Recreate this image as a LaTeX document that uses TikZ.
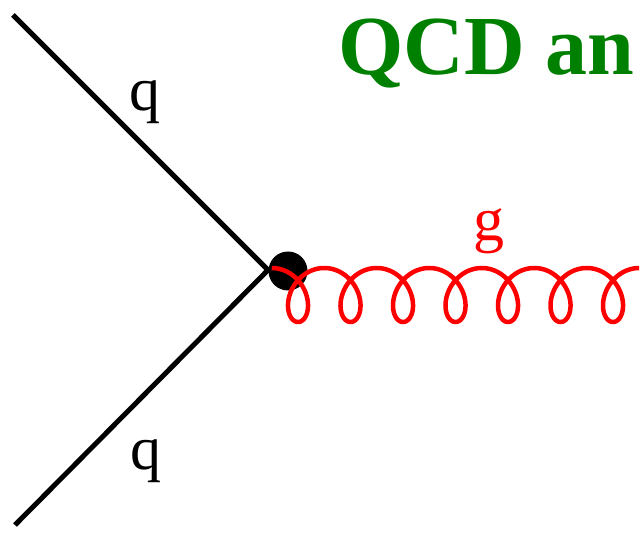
\documentclass[tikz,border=0pt]{standalone}
\usepackage{fontspec}
\setmainfont{Liberation Serif}
\definecolor{gluonred}{RGB}{255,0,0}
\definecolor{titlegreen}{RGB}{0,128,0}
\tikzset{
  quark/.style={line width=5pt, black},
  gluon/.style={line width=4.5pt, gluonred, line join=round},
  lbl/.style={font=\fontsize{62}{72}\selectfont, inner sep=0pt},
}
\begin{document}
\begin{tikzpicture}[x=1pt,y=-1pt]
\useasboundingbox (0,0) rectangle (642,537);
\coordinate (a) at (13,15);
\coordinate (b) at (15,525);
\coordinate (v) at (268,270);
\node[circle, fill=black, minimum size=39pt, inner sep=0pt] (dot) at (288,271) {};
\draw[quark] (a) -- (v) -- (b);
\draw[gluon] plot[domain=0:43.98, samples=700, variable=\t] ({271.75 + 8.356*\t + 21.5*sin(\t r)}, {295 - 27*cos(\t r)});
\node[lbl] (q1) at (145,102) {q};
\node[lbl] (q2) at (146,461) {q};
\node[lbl, text=gluonred] (g) at (489,231) {g};
\node[anchor=base west, inner sep=0pt, font=\fontsize{84}{100}\selectfont\bfseries, text=titlegreen] (title) at (338,75) {QCD an};
\end{tikzpicture}
\end{document}
